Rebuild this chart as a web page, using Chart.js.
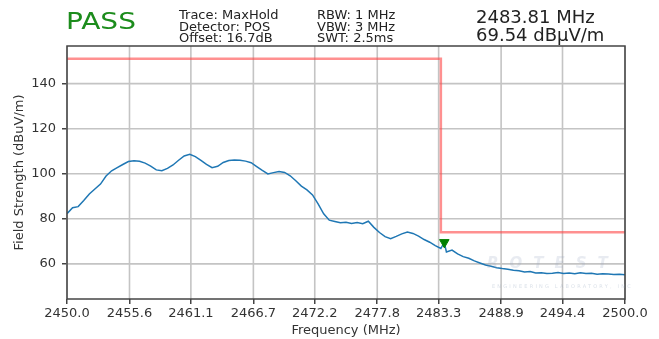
<!DOCTYPE html>
<html>
<head>
<meta charset="utf-8">
<script src="https://cdn.jsdelivr.net/npm/chart.js@4.4.1/dist/chart.umd.min.js"></script>
<style>
body { margin: 0; background: #fff; }
#wrap { position: relative; width: 659px; height: 339px; font-family: "DejaVu Sans", sans-serif; color: #222; }
#chart { position: absolute; left: 0; top: 0; }
.hdr { position: absolute; white-space: nowrap; }
#pass { left: 66px; top: 10px; font-size: 23px; line-height: 23px; color: #1c8c1c; transform: scaleX(1.22); transform-origin: left top; }
.info { font-size: 13px; line-height: 11.7px; top: 9px; }
#mkr { left: 476px; top: 8px; font-size: 18px; line-height: 17.5px; }
#wm1 { left: 487px; top: 254px; font-size: 15px; font-weight: bold; font-style: italic; letter-spacing: 11px; color: rgba(150,165,190,0.22); }
#wm2 { left: 492px; top: 283px; font-size: 5px; letter-spacing: 2.2px; color: rgba(150,165,190,0.35); }
</style>
</head>
<body>
<div id="wrap">
  <canvas id="chart" width="659" height="339"></canvas>
  <div class="hdr" id="pass">PASS</div>
  <div class="hdr info" style="left:179px">Trace: MaxHold<br>Detector: POS<br>Offset: 16.7dB</div>
  <div class="hdr info" style="left:317px">RBW: 1 MHz<br>VBW: 3 MHz<br>SWT: 2.5ms</div>
  <div class="hdr" id="mkr">2483.81 MHz<br>69.54 dBµV/m</div>
  <div class="hdr" id="wm1">ROTEST</div>
  <div class="hdr" id="wm2">ENGINEERING LABORATORY, INC</div>
</div>
<script>
var freqMHz = [
  2450.0, 2450.5, 2451.0, 2451.5, 2452.0, 2452.5, 2453.0, 2453.5, 2454.0, 2454.5,
  2455.0, 2455.5, 2456.0, 2456.5, 2457.0, 2457.5, 2458.0, 2458.5, 2459.0, 2459.5,
  2460.0, 2460.5, 2461.0, 2461.5, 2462.0, 2462.5, 2463.0, 2463.5, 2464.0, 2464.5,
  2465.0, 2465.5, 2466.0, 2466.5, 2467.0, 2467.5, 2468.0, 2468.5, 2469.0, 2469.5,
  2470.0, 2470.5, 2471.0, 2471.5, 2472.0, 2472.5, 2473.0, 2473.5, 2474.0, 2474.5,
  2475.0, 2475.5, 2476.0, 2476.5, 2477.0, 2477.5, 2478.0, 2478.5, 2479.0, 2479.5,
  2480.0, 2480.5, 2481.0, 2481.5, 2482.0, 2482.5, 2483.0, 2483.5, 2483.8, 2484.0,
  2484.5, 2485.0, 2485.5, 2486.0, 2486.5, 2487.0, 2487.5, 2488.0, 2488.5, 2489.0,
  2489.5, 2490.0, 2490.5, 2491.0, 2491.5, 2492.0, 2492.5, 2493.0, 2493.5, 2494.0,
  2494.5, 2495.0, 2495.5, 2496.0, 2496.5, 2497.0, 2497.5, 2498.0, 2498.5, 2499.0,
  2499.5, 2500.0
];
var levelDbuv = [
  82.3, 84.9, 85.4, 88.1, 91.0, 93.2, 95.4, 99.0, 101.3, 102.7,
  104.1, 105.4, 105.8, 105.5, 104.7, 103.4, 101.7, 101.3, 102.4, 103.9,
  106.0, 107.9, 108.6, 107.6, 105.9, 104.2, 102.7, 103.3, 105.0, 105.9,
  106.1, 106.0, 105.6, 104.9, 103.2, 101.5, 99.9, 100.5, 101.0, 100.6,
  99.1, 96.9, 94.5, 92.8, 90.6, 86.6, 82.2, 79.4, 78.8, 78.2,
  78.5, 77.9, 78.3, 77.8, 78.9, 76.2, 73.9, 72.1, 71.2, 72.2,
  73.3, 74.1, 73.5, 72.3, 70.8, 69.6, 68.1, 66.8, 69.5, 65.3,
  66.1, 64.4, 63.2, 62.5, 61.3, 60.4, 59.5, 58.9, 58.3, 57.9,
  57.6, 57.2, 56.9, 56.4, 56.6, 55.9, 56.1, 55.7, 55.8, 56.2,
  55.7, 55.9, 55.6, 56.1, 55.7, 55.8, 55.4, 55.6, 55.5, 55.3,
  55.4, 55.2
];

// limit line
var limitFreq = [2450.0, 2483.5, 2483.5, 2500.0];
var limitLevel = [151, 151, 74, 74];

// peak marker
var markerFreq = [2483.81];
var markerLevel = [69.54];

// axes
var xTicks = [2450.0, 2455.6, 2461.1, 2466.7, 2472.2, 2477.8, 2483.3, 2488.9, 2494.4, 2500.0];
var yTicks = [60, 80, 100, 120, 140];
var yMin = 44.4, yMax = 156.7;

function pts(xs, ys) {
  return xs.map(function(x, i) { return { x: x, y: ys[i] }; });
}

// grid lines behind the data, plus the box round the plot
var framePlugin = {
  id: 'frame',
  beforeDatasetsDraw: function(chart) {
    var a = chart.chartArea, ctx = chart.ctx;
    var sx = chart.scales.x, sy = chart.scales.y;
    ctx.save();
    ctx.strokeStyle = '#c4c4c4';
    ctx.lineWidth = 1.6;
    ctx.beginPath();
    xTicks.forEach(function(v) {
      var px = sx.getPixelForValue(v);
      ctx.moveTo(px, a.top);
      ctx.lineTo(px, a.bottom);
    });
    yTicks.forEach(function(v) {
      var py = sy.getPixelForValue(v);
      ctx.moveTo(a.left, py);
      ctx.lineTo(a.right, py);
    });
    ctx.stroke();
    ctx.restore();
  },
  afterDraw: function(chart) {
    var a = chart.chartArea, ctx = chart.ctx;
    ctx.save();
    ctx.strokeStyle = '#444';
    ctx.lineWidth = 1.5;
    ctx.strokeRect(a.left, a.top, a.right - a.left, a.bottom - a.top);
    ctx.restore();
  }
};

var tickFont = { family: 'DejaVu Sans', size: 13 };

new Chart(document.getElementById('chart'), {
  type: 'scatter',
  data: {
    datasets: [{
      data: pts(markerFreq, markerLevel),
      pointStyle: 'triangle',
      rotation: 180,
      pointRadius: 5.5,
      backgroundColor: '#008000',
      borderColor: '#008000',
      showLine: false,
      order: 1
    }, {
      data: pts(freqMHz, levelDbuv),
      borderColor: '#1f77b4',
      borderWidth: 1.5,
      pointRadius: 0,
      showLine: true,
      order: 2
    }, {
      data: pts(limitFreq, limitLevel),
      borderColor: 'rgba(255,70,70,0.6)',
      borderWidth: 2.5,
      pointRadius: 0,
      showLine: true,
      order: 3
    }]
  },
  options: {
    responsive: false,
    animation: false,
    events: [],
    layout: { padding: { left: 0, top: 46, right: 34, bottom: 0 } },
    plugins: {
      legend: { display: false },
      tooltip: { enabled: false }
    },
    scales: {
      x: {
        type: 'linear',
        min: 2450,
        max: 2500,
        afterBuildTicks: function(s) { s.ticks = xTicks.map(function(v) { return { value: v }; }); },
        afterFit: function(s) { s.height = 40; },
        ticks: {
          font: tickFont,
          color: '#333',
          padding: 2,
          maxRotation: 0,
          autoSkip: false,
          callback: function(v) { return Number(v).toFixed(1); }
        },
        grid: { drawOnChartArea: false, tickColor: '#444', tickLength: 5, lineWidth: 1.5 },
        border: { display: false },
        title: {
          display: true,
          text: 'Frequency (MHz)',
          font: tickFont,
          color: '#333',
          padding: { top: 0, bottom: 1 }
        }
      },
      y: {
        min: yMin,
        max: yMax,
        afterBuildTicks: function(s) { s.ticks = yTicks.map(function(v) { return { value: v }; }); },
        afterFit: function(s) { s.width = 67; },
        ticks: { font: tickFont, color: '#333', padding: 6 },
        grid: { drawOnChartArea: false, tickColor: '#444', tickLength: 5, lineWidth: 1.5 },
        border: { display: false },
        title: {
          display: true,
          text: 'Field Strength (dBuV/m)',
          font: tickFont,
          color: '#333',
          padding: { top: 12, bottom: 0 }
        }
      }
    }
  },
  plugins: [framePlugin]
});
</script>
</body>
</html>
